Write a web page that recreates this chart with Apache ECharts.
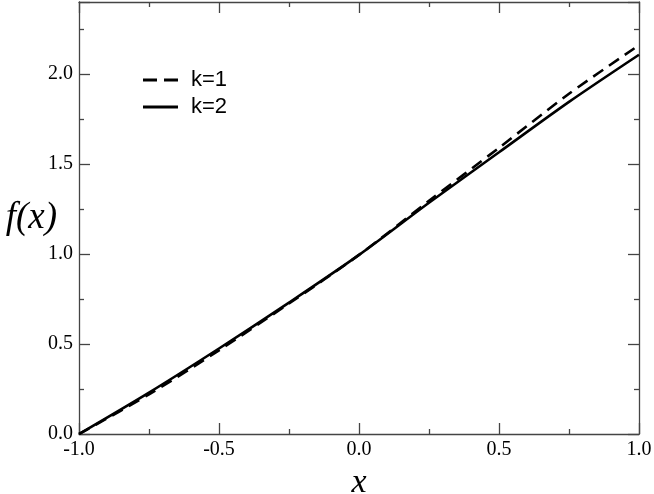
<!DOCTYPE html>
<html>
<head>
<meta charset="utf-8">
<script src="https://cdn.jsdelivr.net/npm/echarts@6/dist/echarts.min.js"></script>
<style>html,body{margin:0;padding:0;background:#fff}#c{width:654px;height:494px}</style>
</head>
<body>
<div id="c"></div>
<script>
const xValues = [-1.0, -0.75, -0.5, -0.25, 0.0, 0.25, 0.5, 0.75, 1.0];
const k1Values = [0.0, 0.22, 0.465, 0.725, 0.995, 1.295, 1.59, 1.89, 2.16];
const k2Values = [0.0, 0.23, 0.475, 0.73, 0.995, 1.285, 1.565, 1.845, 2.107];
const seriesNames = ['k=1', 'k=2'];
const xTicks = [-1.0, -0.5, 0.0, 0.5, 1.0];
const yTicks = [0.0, 0.5, 1.0, 1.5, 2.0];

const pairs = (ys) => xValues.map((x, i) => [x, ys[i]]);
const serif = 'Liberation Serif';
const axisColor = '#444';

const baseX = {
  type: 'value', min: -1, max: 1, interval: 0.5,
  axisLine: { show: true, onZero: false, lineStyle: { color: axisColor, width: 1.3 } },
  axisTick: { show: true, inside: true, length: 11, lineStyle: { color: axisColor, width: 1.3 } },
  minorTick: { show: true, splitNumber: 2, length: 5, lineStyle: { color: axisColor, width: 1.3 } },
  splitLine: { show: false }
};
const baseY = {
  type: 'value', min: 0, max: 2.4, interval: 0.5,
  axisLine: { show: true, onZero: false, lineStyle: { color: axisColor, width: 1.3 } },
  axisTick: { show: true, inside: true, length: 11, lineStyle: { color: axisColor, width: 1.3 } },
  minorTick: { show: true, splitNumber: 2, length: 5, lineStyle: { color: axisColor, width: 1.3 } },
  splitLine: { show: false }
};

const dashIcon = 'path://M0,0h14v3h-14z M21,0h14v3h-14z';
const solidIcon = 'path://M0,0h35v3h-35z';

const chart = echarts.init(document.getElementById('c'), null, { renderer: 'canvas' });
chart.setOption({
  animation: false,
  backgroundColor: '#fff',
  grid: { left: 79, right: 15, top: 2, bottom: 60, containLabel: false, outerBoundsMode: 'none' },
  legend: {
    orient: 'vertical', left: 138, top: 64,
    itemWidth: 35, itemHeight: 3, itemGap: 5,
    itemStyle: { color: '#000', borderWidth: 0 },
    data: [
      { name: seriesNames[0], icon: dashIcon },
      { name: seriesNames[1], icon: solidIcon }
    ],
    textStyle: { fontFamily: 'Liberation Sans', fontSize: 22, color: '#000', lineHeight: 22, padding: [0, 0, 0, 8] }
  },
  xAxis: [
    Object.assign({}, baseX, {
      position: 'bottom',
      axisLabel: {
        show: true, margin: 6, fontFamily: serif, fontSize: 20, color: '#000',
        formatter: (v) => xTicks.includes(v) ? v.toFixed(1) : ''
      },
      name: 'x', nameLocation: 'middle', nameGap: 32, nameMoveOverlap: false,
      nameTextStyle: { fontFamily: serif, fontStyle: 'italic', fontSize: 34, color: '#000' }
    }),
    Object.assign({}, baseX, { position: 'top', axisLabel: { show: false } })
  ],
  yAxis: [
    Object.assign({}, baseY, {
      position: 'left',
      axisLabel: {
        show: true, margin: 6, fontFamily: serif, fontSize: 20, color: '#000',
        formatter: (v) => yTicks.includes(v) ? v.toFixed(1) : ''
      },
      name: 'f(x)', nameLocation: 'middle', nameGap: 22, nameRotate: 0, nameMoveOverlap: false,
      nameTextStyle: { fontFamily: serif, fontStyle: 'italic', fontSize: 37, color: '#000', align: 'right', padding: [6, 0, 0, 0] }
    }),
    Object.assign({}, baseY, { position: 'right', axisLabel: { show: false } })
  ],
  series: [
    {
      name: seriesNames[0], type: 'line', xAxisIndex: 0, yAxisIndex: 0,
      data: pairs(k1Values), smooth: 0.3, showSymbol: false, symbol: 'none',
      lineStyle: { color: '#000', width: 2.6, type: [12, 7] }, itemStyle: { color: '#000' }
    },
    {
      name: seriesNames[1], type: 'line', xAxisIndex: 0, yAxisIndex: 0,
      data: pairs(k2Values), smooth: 0.3, showSymbol: false, symbol: 'none',
      lineStyle: { color: '#000', width: 2.6, type: 'solid' }, itemStyle: { color: '#000' }
    }
  ]
});
</script>
</body>
</html>
